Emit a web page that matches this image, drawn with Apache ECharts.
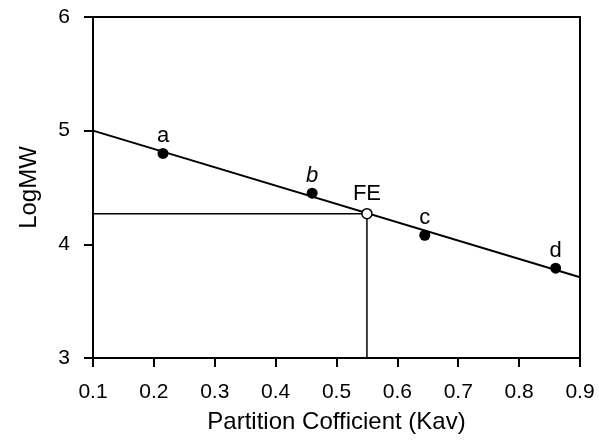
<!DOCTYPE html>
<html>
<head>
<meta charset="utf-8">
<script src="https://cdn.jsdelivr.net/npm/echarts@6/dist/echarts.min.js"></script>
<style>html,body{margin:0;padding:0;background:#fff;}#c{width:599px;height:441px;}</style>
</head>
<body>
<div id="c"></div>
<script>
// Data
var xTicks = [0.1, 0.2, 0.3, 0.4, 0.5, 0.6, 0.7, 0.8, 0.9];
var yTicks = [3, 4, 5, 6];
var pointNames = ['a', 'b', 'c', 'd'];
var pointKav = [0.215, 0.46, 0.645, 0.86];
var pointLogMW = [4.80, 4.45, 4.08, 3.79];
var fitKav = [0.1, 0.9];
var fitLogMW = [5.0, 3.71];
var feName = 'FE';
var feKav = 0.55;
var feLogMW = 4.27;

var FONT = '"Liberation Sans", Arial, sans-serif';
var chart = echarts.init(document.getElementById('c'), null, {renderer: 'canvas'});

var pts = pointNames.map(function (n, i) {
  return {name: n, value: [pointKav[i], pointLogMW[i]],
    label: {fontStyle: n === 'b' ? 'italic' : 'normal'}};
});
var fitData = fitKav.map(function (x, i) { return [x, fitLogMW[i]]; });
var guideData = [[xTicks[0], feLogMW], [feKav, feLogMW], [feKav, yTicks[0]]];

var axisLine = {show: true, lineStyle: {color: '#000', width: 2}};
chart.setOption({
  animation: false,
  backgroundColor: '#fff',
  grid: {left: 93, right: 19, top: 17, bottom: 83, containLabel: false},
  xAxis: [{
    type: 'value', min: xTicks[0], max: xTicks[xTicks.length - 1], interval: 0.1,
    position: 'bottom',
    axisLine: axisLine,
    axisTick: {show: true, inside: false, length: 9, lineStyle: {color: '#000', width: 2}},
    axisLabel: {color: '#000', fontFamily: FONT, fontSize: 21, margin: 24,
      formatter: function (v) { return v.toFixed(1); }},
    splitLine: {show: false},
    name: 'Partition Cofficient (Kav)', nameLocation: 'middle', nameGap: 52,
    nameTextStyle: {color: '#000', fontFamily: FONT, fontSize: 24}
  }, {
    type: 'value', min: xTicks[0], max: xTicks[xTicks.length - 1], interval: 0.1,
    position: 'top', axisLine: axisLine, axisTick: {show: false},
    axisLabel: {show: false}, splitLine: {show: false}
  }],
  yAxis: [{
    type: 'value', min: yTicks[0], max: yTicks[yTicks.length - 1], interval: 1,
    position: 'left',
    axisLine: axisLine,
    axisTick: {show: true, inside: false, length: 9, lineStyle: {color: '#000', width: 2}},
    axisLabel: {color: '#000', fontFamily: FONT, fontSize: 21, margin: 23},
    splitLine: {show: false},
    name: 'LogMW', nameLocation: 'middle', nameGap: 52, nameRotate: 90,
    nameTextStyle: {color: '#000', fontFamily: FONT, fontSize: 24}
  }, {
    type: 'value', min: yTicks[0], max: yTicks[yTicks.length - 1], interval: 1,
    position: 'right', axisLine: axisLine, axisTick: {show: false},
    axisLabel: {show: false}, splitLine: {show: false}
  }],
  series: [{
    type: 'line', data: fitData, symbol: 'none', silent: true,
    lineStyle: {color: '#000', width: 2}, z: 2
  }, {
    type: 'line', data: guideData, symbol: 'none', silent: true,
    lineStyle: {color: '#000', width: 1.5}, z: 2
  }, {
    type: 'scatter', data: pts, symbol: 'circle', symbolSize: 11,
    itemStyle: {color: '#000', opacity: 1}, z: 5,
    label: {show: true, position: 'top', distance: 1, formatter: '{b}',
      color: '#000', fontFamily: FONT, fontSize: 22}
  }, {
    type: 'scatter', data: [{name: feName, value: [feKav, feLogMW]}],
    symbol: 'circle', symbolSize: 10,
    itemStyle: {color: '#fff', borderColor: '#000', borderWidth: 1.5, opacity: 1}, z: 6,
    label: {show: true, position: 'top', distance: 3, formatter: '{b}',
      color: '#000', fontFamily: FONT, fontSize: 22}
  }]
});
</script>
</body>
</html>
